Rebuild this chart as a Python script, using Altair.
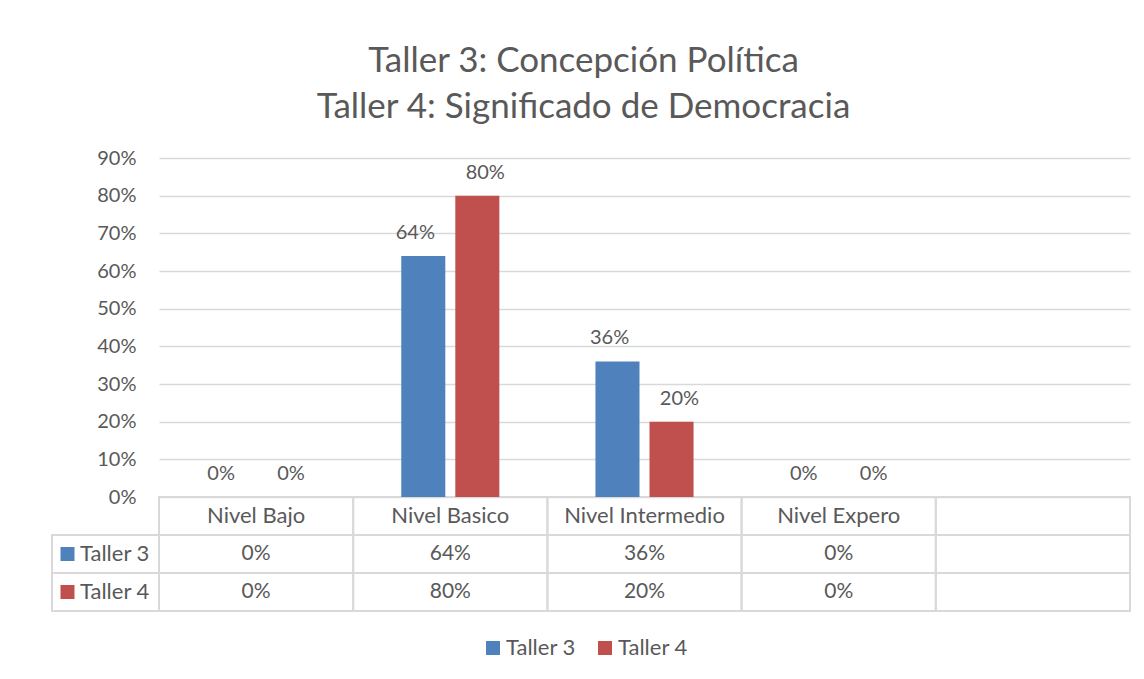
import altair as alt
import pandas as pd

categories = ["Nivel Bajo", "Nivel Basico", "Nivel Intermedio", "Nivel Expero", ""]
series = ["Taller 3", "Taller 4"]
taller3 = [0.00, 0.64, 0.36, 0.00, None]
taller4 = [0.00, 0.80, 0.20, 0.00, None]
tick_values = [0.0, 0.1, 0.2, 0.3, 0.4, 0.5, 0.6, 0.7, 0.8, 0.9]
title_lines = ["Taller 3: Concepción Política", "Taller 4: Significado de Democracia"]
colors = ["#4f81bd", "#c0504d"]

FONT = "Lato"
TXT = "#595959"
GRID = "#d9d9d9"
W, H, BAR_H = 971, 453, 339

rows = ["cat"] + series

recs = []
for s, vals in zip(series, [taller3, taller4]):
    for c, v in zip(categories, vals):
        recs.append({"cat": c, "serie": s, "value": v})
vals_df = pd.DataFrame(recs)
vals_nn = vals_df.dropna()

cells = pd.DataFrame([{"cat": c, "row": r} for c in categories for r in rows])
head = pd.DataFrame({"cat": categories, "row": ["cat"] * len(categories)})
left = pd.DataFrame({"col": ["lbl"] * len(series), "row": series, "serie": series})

xcat = alt.Scale(domain=categories, paddingInner=0, paddingOuter=0)
xoff = alt.Scale(domain=series, paddingInner=0.185, paddingOuter=0.889)
yval = alt.Scale(domain=[0, 0.9], range=[BAR_H, 0], nice=False)
yrow = alt.Scale(domain=rows, range=[BAR_H, H], paddingInner=0, paddingOuter=0)
xlbl = alt.Scale(domain=["lbl"], range=[-107, 0], paddingInner=0, paddingOuter=0)
cscale = alt.Scale(domain=series, range=colors)

bars = alt.Chart(vals_nn).mark_bar().encode(
    x=alt.X("cat:N", scale=xcat, axis=None),
    xOffset=alt.XOffset("serie:N", scale=xoff),
    y=alt.Y("value:Q", scale=yval, axis=alt.Axis(
        values=tick_values, format=".0%", grid=True, gridColor=GRID, gridWidth=1.5,
        domain=False, ticks=False, labelPadding=23, labelFontSize=20,
        labelColor=TXT, labelFont=FONT, title=None)),
    color=alt.Color("serie:N", scale=cscale, legend=alt.Legend(
        orient="none", direction="horizontal", legendX=323, legendY=479,
        title=None, symbolType="square", symbolSize=196, symbolStrokeWidth=0,
        labelFontSize=22, labelFont=FONT, labelColor=TXT, labelOffset=2,
        columnPadding=18)),
)

bar_labels = alt.Chart(vals_nn).mark_text(
    baseline="alphabetic", dy=-17, fontSize=20, font=FONT, color=TXT
).encode(
    x=alt.X("cat:N", scale=xcat, axis=None),
    xOffset=alt.XOffset("serie:N", scale=xoff),
    y=alt.Y("value:Q", scale=yval, axis=None),
    text=alt.Text("value:Q", format=".0%"),
)

grid_cells = alt.Chart(cells).mark_rect(
    fill="white", fillOpacity=0, stroke=GRID, strokeWidth=2
).encode(
    x=alt.X("cat:N", scale=xcat, axis=None),
    y=alt.Y("row:N", scale=yrow, axis=None),
)

left_cells = alt.Chart(left).mark_rect(
    fill="white", fillOpacity=0, stroke=GRID, strokeWidth=2
).encode(
    x=alt.X("col:N", scale=xlbl, axis=None),
    y=alt.Y("row:N", scale=yrow, axis=None),
)

head_text = alt.Chart(head).mark_text(
    baseline="middle", fontSize=22, font=FONT, color=TXT
).encode(
    x=alt.X("cat:N", scale=xcat, axis=None),
    y=alt.Y("row:N", scale=yrow, axis=None),
    text="cat:N",
)

val_text = alt.Chart(vals_nn).mark_text(
    baseline="middle", fontSize=21, font=FONT, color=TXT
).encode(
    x=alt.X("cat:N", scale=xcat, axis=None),
    y=alt.Y("serie:N", scale=yrow, axis=None),
    text=alt.Text("value:Q", format=".0%"),
)

left_sq = alt.Chart(left).mark_square(size=196, opacity=1, xOffset=-38).encode(
    x=alt.X("col:N", scale=xlbl, axis=None),
    y=alt.Y("row:N", scale=yrow, axis=None),
    color=alt.Color("serie:N", scale=cscale),
)

left_text = alt.Chart(left).mark_text(
    align="left", baseline="middle", xOffset=-25.5, fontSize=22, font=FONT, color=TXT
).encode(
    x=alt.X("col:N", scale=xlbl, axis=None),
    y=alt.Y("row:N", scale=yrow, axis=None),
    text="row:N",
)

chart = alt.layer(
    grid_cells, left_cells, bars, bar_labels, head_text, val_text, left_sq, left_text
).resolve_scale(
    x="independent", y="independent", xOffset="independent"
).properties(
    width=W, height=H,
    title=alt.TitleParams(
        text=title_lines, fontSize=35, font=FONT, color=TXT, fontWeight="normal",
        anchor="middle", dx=-61, offset=23, lineHeight=46.5),
    autosize=alt.AutoSizeParams(type="none"),
    padding={"left": 151, "top": 150, "right": 6, "bottom": 60},
).configure_view(strokeWidth=0)

chart.save("out.html", embed_options={"renderer": "svg", "actions": False})
